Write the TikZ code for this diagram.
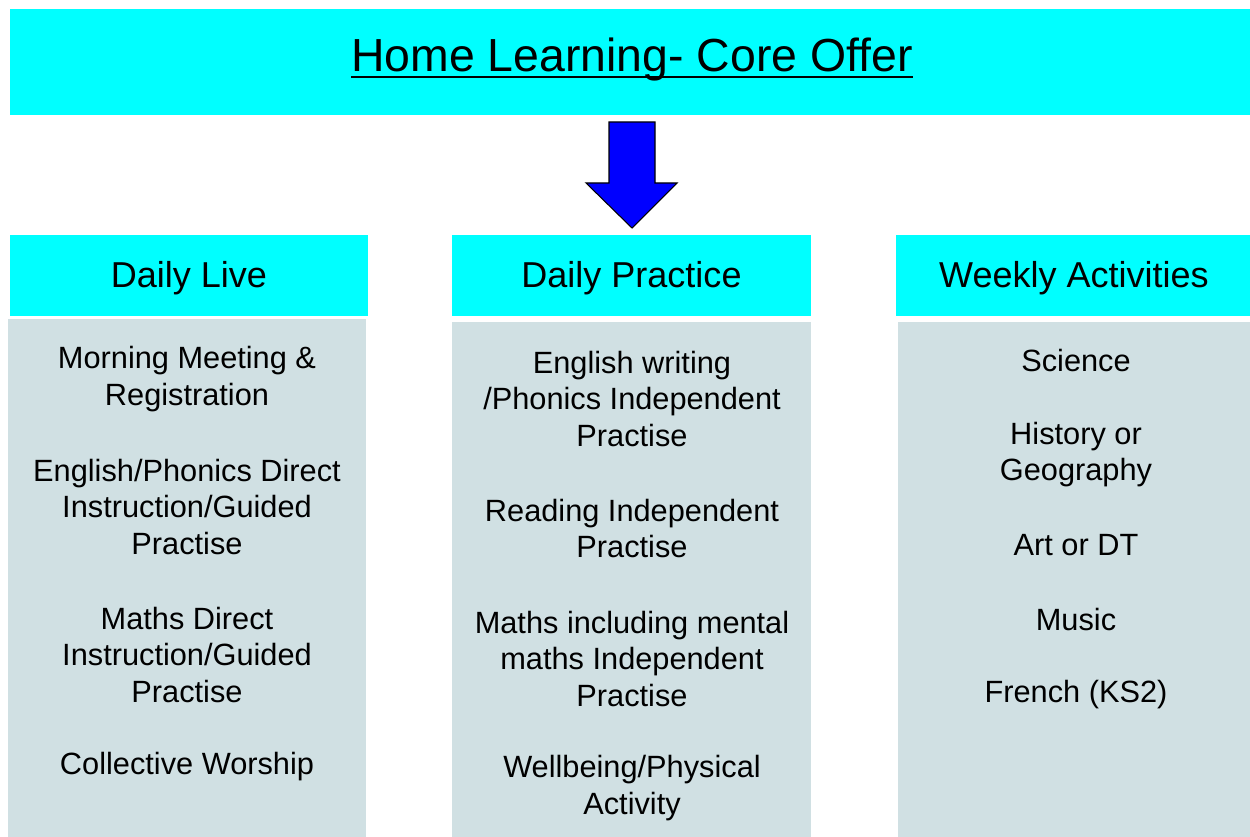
\documentclass[tikz,border=0pt]{standalone}
\usepackage{fontspec}
\setmainfont{Liberation Sans}
\usepackage{xcolor}
\usepackage{tikz}
\definecolor{headcyan}{HTML}{00FFFF}
\definecolor{bodygrey}{HTML}{D0E0E3}
\definecolor{arrowblue}{HTML}{0000FF}

\begin{document}
\begin{tikzpicture}[x=0.02cm, y=-0.02cm]
\tikzstyle{banner} = [rectangle, draw=none, fill=headcyan, inner sep=0pt, minimum width=24.8cm, minimum height=2.12cm]
\tikzstyle{head}   = [rectangle, draw=none, fill=headcyan, inner sep=0pt, minimum height=1.62cm]
\tikzstyle{label}  = [inner sep=0pt, font=\fontsize{20.5}{24}\selectfont]
\tikzstyle{column} = [rectangle, draw=none, fill=bodygrey, inner sep=0pt]
\tikzstyle{item}   = [align=center, inner sep=0pt, font=\fontsize{17.5}{21}\selectfont]
\useasboundingbox (0,0) rectangle (1250,837);
\node[banner] at (630.00, 62.00) (core){};
\node[inner sep=0pt, font=\fontsize{26.4}{30}\selectfont] at (632.00, 60.00) (title){Home Learning- Core Offer};
\draw[line width=1.2pt] ([yshift=-3pt]title.base west) -- ([yshift=-3pt]title.base east);
\draw[fill=arrowblue, draw=black, line width=0.6pt, line join=miter] (609,122) -- (655,122) -- (655,183) -- (677,183) -- (632,228) -- (586,183) -- (609,183) -- cycle;
\node[head, minimum width=7.16cm] at (189.00, 275.50) (live){};
\node[head, minimum width=7.18cm] at (631.50, 275.50) (practice){};
\node[head, minimum width=7.08cm] at (1073.00, 275.50) (weekly){};
\node[label] at (189.00, 278.00) (live_label){Daily Live};
\node[label] at (631.50, 278.00) (practice_label){Daily Practice};
\node[label] at (1074.00, 278.00) (weekly_label){Weekly Activities};
\node[column, minimum width=7.16cm, minimum height=10.36cm] at (187.00, 578.00) (live_body){};
\node[column, minimum width=7.18cm, minimum height=10.30cm] at (631.50, 579.50) (practice_body){};
\node[column, minimum width=7.04cm, minimum height=10.30cm] at (1074.00, 579.50) (weekly_body){};
\node[item] at (187.00, 379.00) (live_0){Morning Meeting \&\\Registration};
\node[item] at (187.00, 507.00) (live_1){English/Phonics Direct\\Instruction/Guided\\Practise};
\node[item] at (187.00, 655.00) (live_2){Maths Direct\\Instruction/Guided\\Practise};
\node[item] at (187.00, 767.00) (live_3){Collective Worship};
\node[item] at (632.00, 399.00) (practice_0){English writing\\/Phonics Independent\\Practise};
\node[item] at (632.00, 528.50) (practice_1){Reading Independent\\Practise};
\node[item] at (632.00, 659.00) (practice_2){Maths including mental\\maths Independent\\Practise};
\node[item] at (632.00, 788.00) (practice_3){Wellbeing/Physical\\Activity};
\node[item] at (1076.00, 360.50) (weekly_0){Science};
\node[item] at (1076.00, 454.50) (weekly_1){History or\\Geography};
\node[item] at (1076.00, 545.50) (weekly_2){Art or DT};
\node[item] at (1076.00, 619.50) (weekly_3){Music};
\node[item] at (1076.00, 695.00) (weekly_4){French (KS2)};
\end{tikzpicture}
\end{document}
